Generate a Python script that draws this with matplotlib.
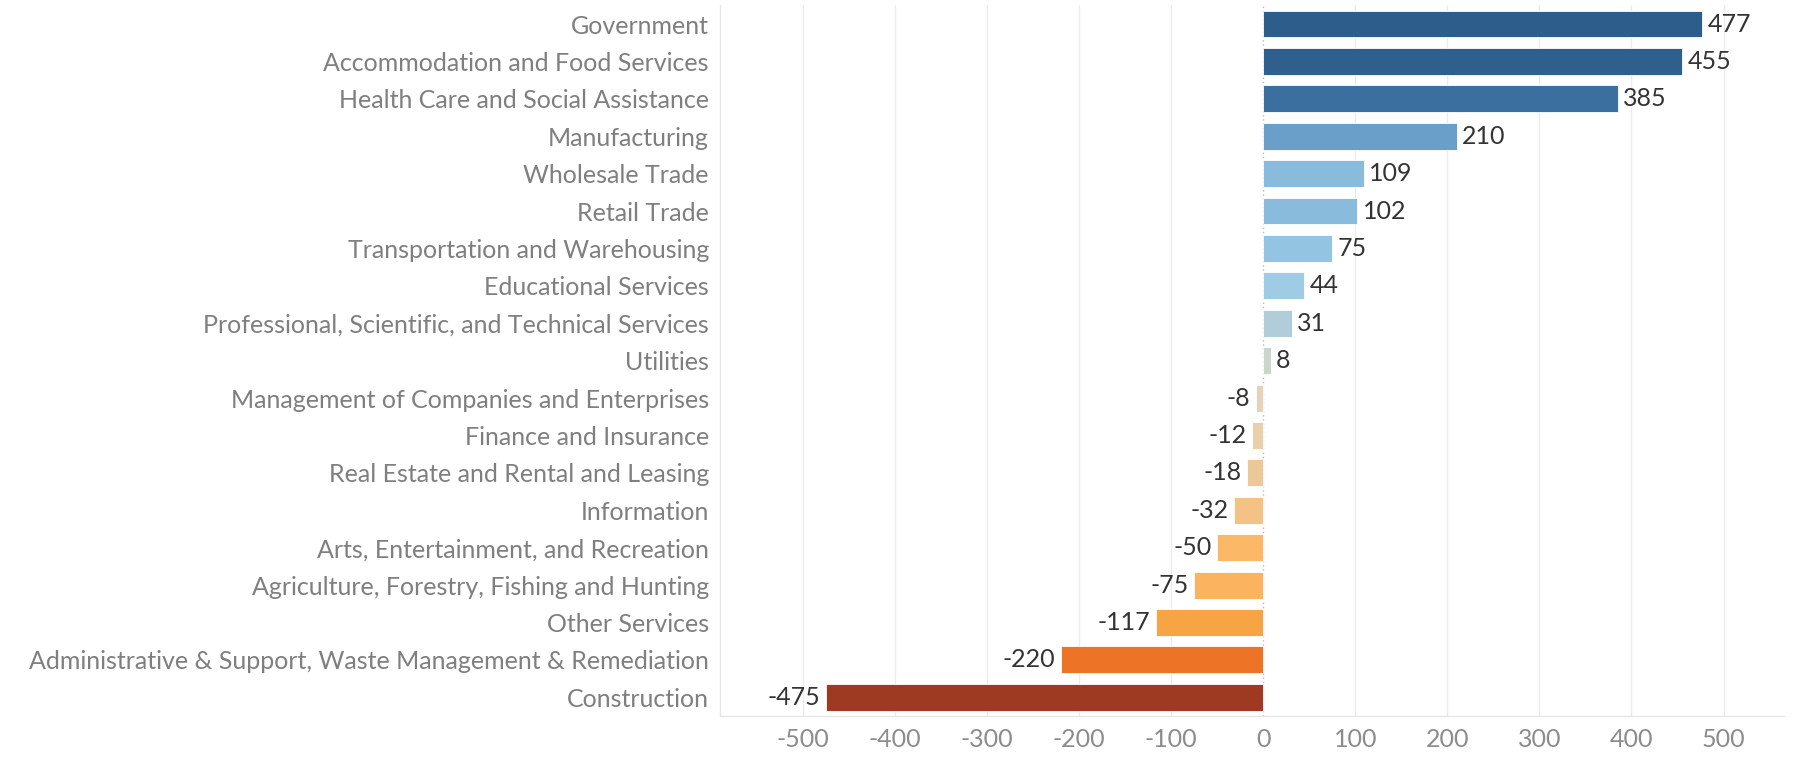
import matplotlib
matplotlib.use("Agg")
import matplotlib.pyplot as plt

categories = [
    "Government",
    "Accommodation and Food Services",
    "Health Care and Social Assistance",
    "Manufacturing",
    "Wholesale Trade",
    "Retail Trade",
    "Transportation and Warehousing",
    "Educational Services",
    "Professional, Scientific, and Technical Services",
    "Utilities",
    "Management of Companies and Enterprises",
    "Finance and Insurance",
    "Real Estate and Rental and Leasing",
    "Information",
    "Arts, Entertainment, and Recreation",
    "Agriculture, Forestry, Fishing and Hunting",
    "Other Services",
    "Administrative & Support, Waste Management & Remediation",
    "Construction",
]
values = [477, 455, 385, 210, 109, 102, 75, 44, 31, 8, -8, -12, -18, -32, -50, -75, -117, -220, -475]
colors = [
    "#2d5e8b", "#2e5f8d", "#3b6fa0", "#6a9fc9", "#89bbdc", "#89bbdc", "#93c4e1",
    "#a0cbe4", "#b0cdd9", "#ccd5cc", "#e3d4b9", "#e8d0aa", "#ebc898", "#f3c386",
    "#fbb867", "#fbb35f", "#f7a444", "#ed7426", "#9e3a22",
]
xticks = [-500, -400, -300, -200, -100, 0, 100, 200, 300, 400, 500]

font = "Lato"
fs = 18

fig = plt.figure(figsize=(18.06, 7.59), dpi=100)
ax = fig.add_axes([0.3987, 0.0567, 0.5893, 0.9363])

y = list(range(len(categories)))
ax.barh(y, values, height=0.72, color=colors, edgecolor="white", linewidth=0.6, zorder=3)

for yi, v in zip(y, values):
    if v >= 0:
        ax.text(v + 6, yi, str(v), va="center", ha="left", fontsize=fs,
                color="#333333", family=font, zorder=4)
    else:
        ax.text(v - 6, yi, str(v), va="center", ha="right", fontsize=fs,
                color="#333333", family=font, zorder=4)

ax.set_ylim(18.5, -0.5)
ax.set_xlim(-590, 566)
ax.set_yticks(y)
ax.set_yticklabels(categories, fontsize=fs, color="#7f7f7f", family=font)
ax.set_xticks(xticks)
ax.set_xticklabels([str(t) for t in xticks], fontsize=fs, color="#8c8c8c", family=font)
ax.tick_params(axis="both", length=0)
ax.tick_params(axis="y", pad=8)
ax.tick_params(axis="x", pad=9)

for t in xticks:
    if t != 0:
        ax.axvline(t, color="#ececec", linewidth=1.0, zorder=1)
ax.axvline(0, color="#bbbbbb", linewidth=1.0, linestyle=(0, (1, 2)), zorder=2)

for s in ["top", "right"]:
    ax.spines[s].set_visible(False)
for s in ["left", "bottom"]:
    ax.spines[s].set_color("#e6e6e6")
    ax.spines[s].set_linewidth(1.0)

fig.savefig("out.png", dpi=100)
